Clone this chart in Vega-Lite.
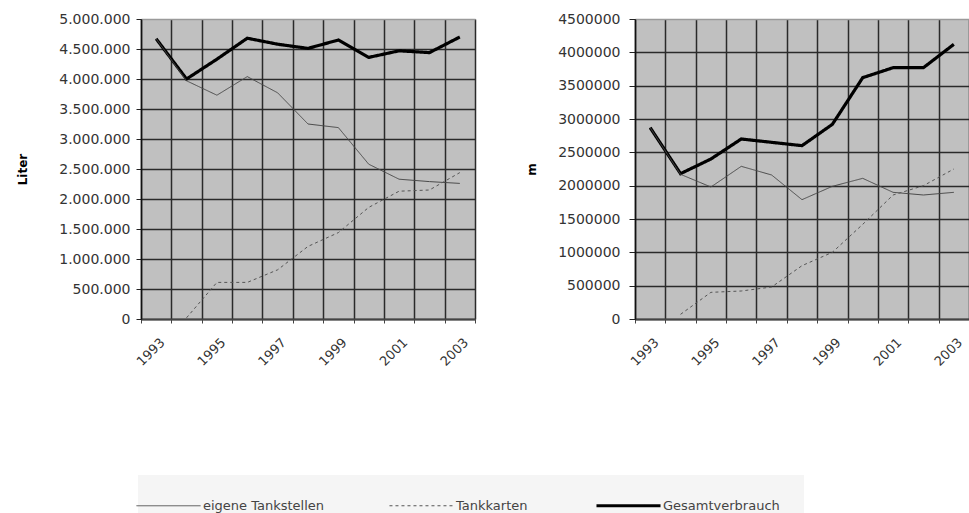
{
  "$schema": "https://vega.github.io/schema/vega-lite/v6.json",
  "padding": {"left": 15, "top": 11, "right": 0, "bottom": 0},
  "background": "white",
  "bounds": "flush",
  "config": {
    "font": "DejaVu Sans",
    "view": {"fill": "#c0c0c0", "stroke": "#9a9a9a", "strokeWidth": 1}
  },
  "datasets": {
    "liter": [
      {"year": "1993", "series": "Gesamtverbrauch", "value": 4670000},
      {"year": "1994", "series": "Gesamtverbrauch", "value": 4000000},
      {"year": "1995", "series": "Gesamtverbrauch", "value": 4330000},
      {"year": "1996", "series": "Gesamtverbrauch", "value": 4680000},
      {"year": "1997", "series": "Gesamtverbrauch", "value": 4580000},
      {"year": "1998", "series": "Gesamtverbrauch", "value": 4510000},
      {"year": "1999", "series": "Gesamtverbrauch", "value": 4650000},
      {"year": "2000", "series": "Gesamtverbrauch", "value": 4360000},
      {"year": "2001", "series": "Gesamtverbrauch", "value": 4470000},
      {"year": "2002", "series": "Gesamtverbrauch", "value": 4440000},
      {"year": "2003", "series": "Gesamtverbrauch", "value": 4700000},
      {"year": "1993", "series": "eigene Tankstellen", "value": 4670000},
      {"year": "1994", "series": "eigene Tankstellen", "value": 3970000},
      {"year": "1995", "series": "eigene Tankstellen", "value": 3730000},
      {"year": "1996", "series": "eigene Tankstellen", "value": 4040000},
      {"year": "1997", "series": "eigene Tankstellen", "value": 3770000},
      {"year": "1998", "series": "eigene Tankstellen", "value": 3250000},
      {"year": "1999", "series": "eigene Tankstellen", "value": 3190000},
      {"year": "2000", "series": "eigene Tankstellen", "value": 2580000},
      {"year": "2001", "series": "eigene Tankstellen", "value": 2330000},
      {"year": "2002", "series": "eigene Tankstellen", "value": 2290000},
      {"year": "2003", "series": "eigene Tankstellen", "value": 2260000},
      {"year": "1994", "series": "Tankkarten", "value": 20000},
      {"year": "1995", "series": "Tankkarten", "value": 610000},
      {"year": "1996", "series": "Tankkarten", "value": 610000},
      {"year": "1997", "series": "Tankkarten", "value": 820000},
      {"year": "1998", "series": "Tankkarten", "value": 1210000},
      {"year": "1999", "series": "Tankkarten", "value": 1440000},
      {"year": "2000", "series": "Tankkarten", "value": 1860000},
      {"year": "2001", "series": "Tankkarten", "value": 2130000},
      {"year": "2002", "series": "Tankkarten", "value": 2150000},
      {"year": "2003", "series": "Tankkarten", "value": 2440000}
    ],
    "m": [
      {"year": "1993", "series": "Gesamtverbrauch", "value": 2870000},
      {"year": "1994", "series": "Gesamtverbrauch", "value": 2180000},
      {"year": "1995", "series": "Gesamtverbrauch", "value": 2400000},
      {"year": "1996", "series": "Gesamtverbrauch", "value": 2700000},
      {"year": "1997", "series": "Gesamtverbrauch", "value": 2650000},
      {"year": "1998", "series": "Gesamtverbrauch", "value": 2600000},
      {"year": "1999", "series": "Gesamtverbrauch", "value": 2920000},
      {"year": "2000", "series": "Gesamtverbrauch", "value": 3620000},
      {"year": "2001", "series": "Gesamtverbrauch", "value": 3770000},
      {"year": "2002", "series": "Gesamtverbrauch", "value": 3770000},
      {"year": "2003", "series": "Gesamtverbrauch", "value": 4120000},
      {"year": "1993", "series": "eigene Tankstellen", "value": 2870000},
      {"year": "1994", "series": "eigene Tankstellen", "value": 2170000},
      {"year": "1995", "series": "eigene Tankstellen", "value": 1980000},
      {"year": "1996", "series": "eigene Tankstellen", "value": 2290000},
      {"year": "1997", "series": "eigene Tankstellen", "value": 2160000},
      {"year": "1998", "series": "eigene Tankstellen", "value": 1790000},
      {"year": "1999", "series": "eigene Tankstellen", "value": 1990000},
      {"year": "2000", "series": "eigene Tankstellen", "value": 2110000},
      {"year": "2001", "series": "eigene Tankstellen", "value": 1900000},
      {"year": "2002", "series": "eigene Tankstellen", "value": 1860000},
      {"year": "2003", "series": "eigene Tankstellen", "value": 1900000},
      {"year": "1994", "series": "Tankkarten", "value": 70000},
      {"year": "1995", "series": "Tankkarten", "value": 400000},
      {"year": "1996", "series": "Tankkarten", "value": 420000},
      {"year": "1997", "series": "Tankkarten", "value": 480000},
      {"year": "1998", "series": "Tankkarten", "value": 800000},
      {"year": "1999", "series": "Tankkarten", "value": 1000000},
      {"year": "2000", "series": "Tankkarten", "value": 1420000},
      {"year": "2001", "series": "Tankkarten", "value": 1860000},
      {"year": "2002", "series": "Tankkarten", "value": 2000000},
      {"year": "2003", "series": "Tankkarten", "value": 2250000}
    ]
  },
  "spacing": 160,
  "resolve": {"scale": {"x": "independent", "y": "independent", "color": "shared", "strokeDash": "shared"}},
  "hconcat": [
    {
      "width": 334,
      "height": 300,
      "data": {"name": "liter"},
      "mark": {"type": "line", "strokeJoin": "miter"},
      "encoding": {
        "x": {
          "field": "year", "type": "ordinal", "bandPosition": 0.5,
          "scale": {"type": "band", "paddingInner": 0, "paddingOuter": 0},
          "axis": {
            "title": null, "tickBand": "extent", "grid": true,
            "gridColor": "#2a2a2a",
            "gridWidth": 1.5, "domainColor": "#444", "domainWidth": 2,
            "tickColor": "#444", "tickSize": 4, "labelAngle": -45, "labelAlign": "right", "labelBaseline": "middle",
            "labelPadding": 17, "labelOffset": 6, "labelFontSize": 13, "labelColor": "#333", "labelOverlap": false,
            "labelExpr": "toNumber(datum.value) % 2 == 1 ? datum.value : ''"
          }
        },
        "y": {
          "field": "value", "type": "quantitative",
          "scale": {"domain": [0, 5000000], "nice": false},
          "axis": {
            "title": "Liter", "titleFontSize": 12, "titleFontWeight": "bold", "titleColor": "#000", "titlePadding": 12,
            "values": [0, 500000, 1000000, 1500000, 2000000, 2500000, 3000000, 3500000, 4000000, 4500000, 5000000],
            "labelExpr": "replace(format(datum.value, ','), regexp(',', 'g'), '.')",
            "labelFontSize": 14, "labelColor": "#333", "labelPadding": 6, "tickSize": 5, "tickColor": "#222",
            "domainColor": "#111", "domainWidth": 1.5,
            "gridColor": {"condition": {"test": "datum.value == 5000000", "value": "#9a9a9a"}, "value": "#2a2a2a"},
            "gridWidth": 1.5, "minExtent": 100, "maxExtent": 100
          }
        },
        "color": {
          "field": "series", "type": "nominal",
          "scale": {"domain": ["eigene Tankstellen", "Tankkarten", "Gesamtverbrauch"], "range": ["#4a4a4a", "#555555", "#000000"]},
          "legend": {
            "title": null, "orient": "none", "legendX": -3, "legendY": 456, "direction": "horizontal",
            "symbolType": "stroke", "symbolSize": 4100, "labelFontSize": 13, "labelColor": "#444",
            "labelOffset": 28, "columnPadding": 62, "fillColor": "#f5f5f5", "padding": 24,
            "encode": {"symbols": {"update": {"strokeWidth": {"signal": "datum.value === 'Gesamtverbrauch' ? 3.2 : 1"}, "size": {"value": 4100}}}}
          }
        },
        "strokeDash": {
          "field": "series", "type": "nominal",
          "scale": {"domain": ["eigene Tankstellen", "Tankkarten", "Gesamtverbrauch"], "range": [[1, 0], [3, 3], [1, 0]]},
          "legend": {"title": null}
        },
        "strokeWidth": {"condition": {"test": "datum.series === 'Gesamtverbrauch'", "value": 3.2}, "value": 1}
      }
    },
    {
      "width": 334,
      "height": 300,
      "data": {"name": "m"},
      "mark": {"type": "line", "strokeJoin": "miter"},
      "encoding": {
        "x": {
          "field": "year", "type": "ordinal", "bandPosition": 0.5,
          "scale": {"type": "band", "paddingInner": 0, "paddingOuter": 0},
          "axis": {
            "title": null, "tickBand": "extent", "grid": true,
            "gridColor": "#2a2a2a",
            "gridWidth": 1.5, "domainColor": "#444", "domainWidth": 2,
            "tickColor": "#444", "tickSize": 4, "labelAngle": -45, "labelAlign": "right", "labelBaseline": "middle",
            "labelPadding": 17, "labelOffset": 6, "labelFontSize": 13, "labelColor": "#333", "labelOverlap": false,
            "labelExpr": "toNumber(datum.value) % 2 == 1 ? datum.value : ''"
          }
        },
        "y": {
          "field": "value", "type": "quantitative",
          "scale": {"domain": [0, 4500000], "nice": false},
          "axis": {
            "title": "m", "titleFontSize": 12, "titleFontWeight": "bold", "titleColor": "#000", "titlePadding": 12,
            "values": [0, 500000, 1000000, 1500000, 2000000, 2500000, 3000000, 3500000, 4000000, 4500000],
            "format": "d",
            "labelFontSize": 14, "labelColor": "#333", "labelPadding": 9, "tickSize": 6, "tickColor": "#222",
            "domainColor": "#111", "domainWidth": 1.5,
            "gridColor": {"condition": {"test": "datum.value == 4500000", "value": "#9a9a9a"}, "value": "#2a2a2a"},
            "gridWidth": 1.5, "minExtent": 85, "maxExtent": 85
          }
        },
        "color": {"field": "series", "type": "nominal", "legend": {"title": null}},
        "strokeDash": {"field": "series", "type": "nominal", "legend": {"title": null}},
        "strokeWidth": {"condition": {"test": "datum.series === 'Gesamtverbrauch'", "value": 3.2}, "value": 1}
      }
    }
  ]
}
